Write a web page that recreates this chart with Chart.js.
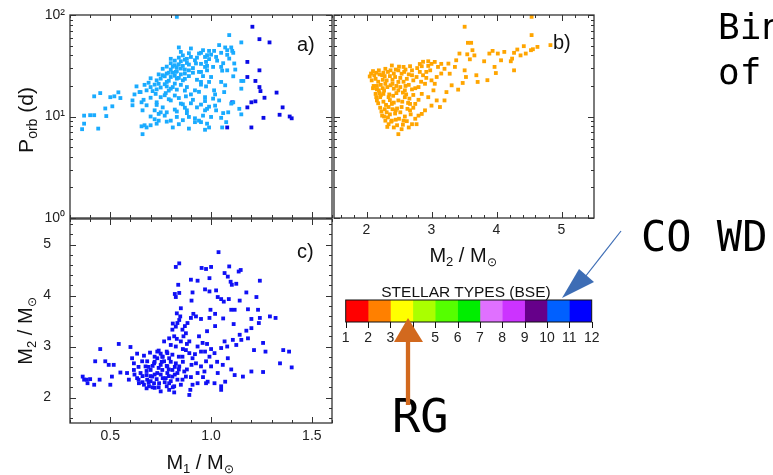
<!DOCTYPE html>
<html lang="en">
<head>
<meta charset="UTF-8">
<title>Binary stellar types</title>
<script src="https://cdn.jsdelivr.net/npm/chart.js"></script>
<style>
  body { margin: 0; background: #fff; }
  #page { position: relative; width: 773px; height: 475px; overflow: hidden; }
  canvas { position: absolute; }
  svg { position: absolute; left: 0; top: 0; }
</style>
</head>
<body>
<div id="page">
  <canvas id="panelA" width="340" height="225" style="left:0;top:0"></canvas>
  <canvas id="panelB" width="270" height="246" style="left:330px;top:0"></canvas>
  <canvas id="panelC" width="340" height="250" style="left:0;top:210px"></canvas>
  <canvas id="typeBar" width="280" height="60" style="left:330px;top:290px"></canvas>
  <svg width="773" height="475">
    <g font-family="Liberation Sans, Arial, sans-serif" fill="#111">
      <text x="297" y="51" font-size="20">a)</text>
      <text x="553" y="49" font-size="20">b)</text>
      <text x="297" y="258" font-size="20">c)</text>
      <text transform="translate(33,120) rotate(-90)" text-anchor="middle" font-size="21">P<tspan font-size="14" dy="4">orb</tspan><tspan dy="-4"> (d)</tspan></text>
      <text transform="translate(32,331) rotate(-90)" text-anchor="middle" font-size="20">M<tspan font-size="13" dy="4">2</tspan><tspan dy="-4"> / M</tspan><tspan font-size="12" dy="4">⊙</tspan></text>
      <text x="200" y="469" text-anchor="middle" font-size="20">M<tspan font-size="13" dy="4">1</tspan><tspan dy="-4"> / M</tspan><tspan font-size="12" dy="4">⊙</tspan></text>
      <text x="463" y="262" text-anchor="middle" font-size="20">M<tspan font-size="13" dy="4">2</tspan><tspan dy="-4"> / M</tspan><tspan font-size="12" dy="4">⊙</tspan></text>
      <text x="466" y="297" text-anchor="middle" font-size="15.5">STELLAR TYPES (BSE)</text>
    </g>
    <g font-family="DejaVu Sans Mono, monospace" fill="#000">
      <text x="718" y="39" font-size="36">Bin</text>
      <text x="718" y="84" font-size="36">of</text>
      <text x="641" y="251" font-size="42">CO WD</text>
      <text x="392" y="432" font-size="47">RG</text>
    </g>
    <line x1="408" y1="405" x2="408" y2="340" stroke="#d2691e" stroke-width="4.3"/>
    <polygon points="408,318 394,342 423,342" fill="#d2691e"/>
    <line x1="621" y1="231" x2="585" y2="277" stroke="#3d6db5" stroke-width="1.2"/>
    <polygon points="562,298 579,269 594,282" fill="#3d6db5"/>
  </svg>
</div>

<script>
// panel a: M1 vs orbital period (light = type 10, dark = type 11)
const aLight = [
  [0.36,7.5],[0.37,8.5],[0.37,10.2],[0.40,10.3],[0.42,10.3],[0.44,7.6],[0.42,15.8],[0.45,17.0],[0.475,12.0],[0.48,10.1],
  [0.50,15.5],[0.51,12.6],[0.52,15.8],[0.54,17.3],[0.55,15.2],[0.61,14.4],[0.61,12.9],[0.63,19.8],[0.645,17.4],[0.655,13.8],
  [0.66,11.5],[0.655,8.0],[0.67,8.2],[0.68,7.8],[0.66,6.7],[0.83,96],
  [0.84,47.9],[0.85,43.3],[0.90,46.8],[0.94,41.7],[0.96,45.0],[0.98,40.2],[0.90,38.6],[0.87,36.3],[0.92,35.8],[0.88,33.7],
  [0.925,33.3],[0.82,32.0],[0.84,32.7],[0.85,29.7],[0.80,29.0],[0.825,27.5],[0.87,26.5],[0.89,28.5],[0.94,27.5],[0.97,30.8],
  [0.78,26.5],[0.77,24.9],[0.80,24.5],[0.83,23.6],[0.86,22.7],[0.75,23.6],[0.73,22.7],[0.78,21.9],[0.82,21.1],[0.72,20.6],
  [0.70,19.5],[0.75,19.3],[0.80,18.8],[0.83,18.4],[0.88,19.5],[0.92,18.1],[0.95,21.9],[0.68,18.1],[0.65,17.4],[0.725,16.7],
  [0.775,17.0],[0.82,16.1],[0.875,15.8],[0.91,14.6],[0.70,15.3],[0.665,14.6],[0.73,13.8],[0.80,14.4],[0.85,13.4],[0.68,12.9],
  [0.76,12.3],[0.72,11.5],[0.82,11.7],[0.88,11.5],[0.93,12.3],[0.97,11.5],[0.70,10.0],[0.77,10.2],[0.83,9.9],[0.74,9.1],
  [0.80,9.1],[0.89,9.9],[0.92,8.8],[0.94,9.1],[0.70,8.2],[0.73,8.5],[0.81,7.8],[0.89,7.6],[0.98,8.5],
  [0.76,25.5],[0.79,27.0],[0.81,31.0],[0.83,28.0],[0.85,35.0],[0.86,31.5],[0.88,37.0],[0.79,22.5],[0.74,21.0],[0.78,19.8],
  [0.82,25.2],[0.84,24.0],[0.87,29.0],[0.89,32.5],[0.91,30.0],[0.93,38.0],[0.95,33.0],[0.77,16.2],[0.71,17.8],[0.69,21.5],
  [0.73,13.0],[0.75,11.0],[0.86,13.2],[0.90,16.5],[0.94,17.5],[0.96,25.0],[0.97,14.2],[0.99,12.5],[0.92,9.6],[0.84,8.4],
  [0.78,8.9],[0.72,9.4],[0.83,11.2],[0.88,10.8],[1.02,16.5],[1.00,24.5],[0.98,31.5],
  [0.74,26.0],[0.76,29.5],[0.78,31.0],[0.80,33.5],[0.82,35.5],[0.84,38.0],[0.86,40.0],[0.81,27.0],[0.83,30.5],[0.85,26.0],
  [0.87,23.5],[0.89,25.0],[0.91,27.0],[0.93,23.0],[0.77,20.8],[0.79,18.0],[0.81,19.5],[0.85,20.5],[0.87,18.0],[0.73,18.5],
  [0.75,15.5],[0.79,14.8],[0.84,15.2],[0.87,12.2],[0.90,13.5],[0.78,11.0],[0.74,10.6],[0.86,9.2],[0.96,10.2],[1.02,12.8],
  [1.03,35.5],[1.06,33.5],[1.08,40.5],[0.99,36.8],[0.89,42.0],[0.80,37.0],[0.70,23.8],[0.67,20.5],[0.62,16.5],
  [1.09,63.4],[1.15,53.7],[1.04,50.5],[1.07,47.9],[1.10,47.9],[1.08,45.0],[1.105,44.3],[1.11,42.4],[1.05,42.4],[1.015,44.3],
  [0.99,44.3],[1.00,40.7],[1.025,38.6],[0.97,38.6],[0.95,42.4],[0.975,34.5],[1.09,37.2],[1.115,33.3],[1.05,30.8],[1.08,28.5],
  [1.12,29.0],[0.98,28.5],[1.01,30.8],[0.95,27.5],[1.055,28.3],[1.11,24.9],[0.99,21.9],[1.15,22.4],[1.16,22.4],[1.05,21.9],
  [1.07,20.3],[1.15,18.8],[0.975,19.8],[0.95,20.6],[1.015,18.1],[1.065,17.4],[0.97,15.5],[1.01,15.0],[1.04,14.4],[1.11,13.8],
  [1.10,13.4],[0.95,13.1],[0.98,11.9],[1.025,11.5],[1.06,10.8],[1.085,11.0],[1.15,10.5],[1.14,11.9],[1.00,9.9],[0.95,8.8],
  [1.05,9.7],[1.075,8.8],[0.99,7.8],[1.055,7.8],[0.97,7.4]
];
const aDark = [
  [1.205,76.6],[1.24,57.8],[1.29,53.7],[1.18,34.5],[1.24,28.5],[1.18,24.5],[1.22,22.4],[1.24,19.5],[1.245,17.8],[1.265,15.3],
  [1.325,17.2],[1.22,14.1],[1.20,13.8],[1.18,12.3],[1.105,13.8],[1.355,12.3],[1.34,10.4],[1.26,9.7],[1.39,10.0],[1.40,9.6],
  [1.20,7.8],[1.08,7.8]
];

// panel b: M2 vs orbital period
const bPoints = [
  [4.54,96],[3.51,76.6],[4.54,63.4],[3.61,53.2],[3.56,53.2],[4.83,50.5],[4.63,48.5],[4.53,45],[4.56,46],[4.42,49.3],
  [4.32,45.7],[4.27,42.4],[4.24,37.2],[4.37,40],[4.45,41.7],[4.22,35],[4.27,28.5],[4.12,43.3],[4.07,35.8],[4.02,41.7],
  [3.94,44.3],[3.89,41.7],[3.81,35],[3.97,30.8],[3.99,26.8],[3.86,22.8],[3.69,25.5],[3.71,21.9],[3.66,40],[3.63,45],
  [3.55,41],[3.59,36.6],[3.51,28.5],[3.53,24.5],[3.48,21.4],[3.43,41.7],[3.38,35.8],[3.36,30.8],[3.41,18.4],[3.26,33.2],
  [3.28,26.4],[3.31,20.3],[3.23,17.4],[3.2,14.4],[3.13,12.4],[3.15,33],[3.1,30.8],[3.05,34.5],[3.0,33],[2.95,35],
  [2.87,34.6],[2.85,31.3],[2.82,32.9],[3.08,24.5],[3.0,22.7],[2.9,21],[3.03,18.1],[2.95,15.5],[3.08,14.4],[3.0,12.8],
  [2.9,11.5],[2.85,10.6],[2.8,10.2],[2.75,9.5],[2.77,8.4],[2.7,8.4],[2.65,7.8],[2.54,7.5],[2.49,6.7],[2.42,7.8],
  [2.34,8.4],[2.39,9.1],[2.29,9.1],[2.24,10.2],[2.31,11],[2.21,12.2],[2.16,14.4],[2.14,16.7],[2.19,18.1],[2.11,20],
  [2.08,22.7],[2.05,24.8],[2.19,28.5],[2.29,29.5],[2.39,31.8],[2.37,28.5],[2.24,25.5],[2.31,22.7],[2.44,24.5],[2.49,21.9],
  [2.54,26.4],[2.67,31.3],[2.7,28.5],[2.65,20.5],[2.77,24.5],[2.8,19.5],[2.72,16.3],[2.59,15.5],[2.49,14.4],[2.39,13.3],
  [2.54,12.4],[2.67,11.5],[2.75,13.3],[2.44,10.7],[2.59,10],[2.34,15.5],[2.26,16.7],[2.42,18.8],[2.49,18.1],[2.59,18.1],
  [2.85,16.7],[2.8,14.6],[2.67,13.3],[2.47,12],[2.34,12.4],[2.26,14],[2.21,15.5],[2.29,21],[2.37,20.3],[2.14,23.5],
  [2.16,20],[2.49,28.5],[2.57,30.8],[2.42,26.5],[2.62,23.5],[2.72,22.7],[2.87,25.5],[2.92,27.5],[2.82,27.5],
  [2.2,17],[2.25,19],[2.3,13],[2.35,16.5],[2.4,21],[2.45,11.5],[2.5,9.5],[2.55,14],[2.6,20],[2.33,9.8],
  [2.38,8.9],[2.47,8.2],[2.62,9.0],[2.68,10.5],[2.18,22],[2.26,27],[2.36,25],[2.52,24],[2.58,27.5],[2.75,19],
  [2.78,30],[2.92,24],[2.98,28.5],[3.05,21],[3.15,26.5],[3.2,29.5],[2.12,25.5],[2.1,19],[2.15,15.5],[2.28,11.8],
  [2.42,13.7],[2.56,17.2],[2.64,13.6],[2.72,12.2],
  [2.07,26.5],[2.1,28],[2.15,27],[2.2,26],[2.25,23],[2.28,25],[2.33,27.5],[2.45,29],[2.5,31],[2.6,29],
  [2.65,26],[2.7,25.5],[2.16,18.5],[2.22,20.5],[2.27,18],[2.32,19.5],[2.36,14.5],[2.41,16],[2.46,17],[2.52,19.5],
  [2.57,22],[2.61,16.5],[2.66,15],[2.7,18.5],[2.18,13.5],[2.23,11.2],[2.27,10],[2.36,10.5],[2.4,11.8],[2.52,11],
  [2.57,9.1],[2.45,9.3],[2.32,7.9],[2.56,8.3],[2.63,11.9],[2.22,16.2],[2.4,23],[2.46,20],[2.84,22],[2.95,31.5]
];

// panel c: M1 vs M2
const cPoints = [
  [0.363,2.41],[0.37,2.35],[0.383,2.35],[0.40,2.36],[0.387,2.28],[0.42,2.25],[0.447,2.35],[0.45,2.95],[0.425,2.71],[0.475,2.71],
  [0.492,2.64],[0.517,2.64],[0.50,2.25],[0.508,2.41],[0.542,3.05],[0.55,2.49],[0.583,2.48],[0.60,2.99],[0.617,2.67],
  [1.037,4.85],[0.842,4.63],[0.825,4.56],[0.953,4.54],[0.975,4.52],[1.0,4.56],[1.09,4.57],[1.147,4.5],[1.137,4.47],[1.067,4.44],
  [1.083,4.37],[1.097,4.27],[1.103,4.21],[1.125,4.23],[0.90,4.31],[0.933,4.29],[0.992,4.34],[0.837,4.21],[0.842,4.05],[0.82,4.03],
  [0.825,3.97],[0.908,4.06],[0.903,3.9],[0.97,4.12],[0.992,4.08],[1.025,4.1],[1.033,3.97],[1.05,3.93],[1.063,3.88],[1.088,3.93],
  [1.142,3.9],[1.225,3.97],[1.242,4.29],[1.175,4.06],[1.183,3.73],[1.233,3.72],[1.10,3.72],[1.117,3.72],[1.112,3.44],[1.20,3.54],
  [1.242,3.56],[1.237,3.46],[1.292,3.59],[1.32,3.56],[0.997,3.72],[1.02,3.64],[0.992,3.56],[0.95,3.54],[0.912,3.64],[0.90,3.56],
  [0.925,3.59],[0.883,3.46],[0.847,3.59],[0.842,3.52],[0.833,3.46],[0.825,3.39],[0.808,3.33],[0.817,3.2],[0.792,3.16],[0.767,3.1],
  [0.80,3.03],[0.825,3.0],[0.858,3.33],[0.863,3.2],[0.875,3.26],[0.892,3.1],[0.875,2.93],[0.892,2.87],[0.858,2.8],[0.908,2.77],
  [0.933,3.0],[0.958,3.07],[0.97,2.9],[0.992,2.8],[1.017,2.87],[1.05,2.97],[1.067,3.1],[1.108,3.13],[1.125,3.03],[1.142,3.23],
  [1.15,3.13],[1.183,3.16],[1.20,3.36],[1.175,3.31],[1.213,2.93],[1.258,3.07],[1.27,2.9],[1.358,2.93],[1.387,2.9],[1.342,2.67],
  [1.40,2.59],[1.258,2.5],[1.20,2.51],[1.158,2.41],[1.117,2.44],[1.083,2.77],[1.058,2.64],[1.033,2.48],[1.0,2.61],[0.975,2.71],
  [0.95,2.61],[0.925,2.67],[0.903,2.64],[0.933,2.48],[0.967,2.51],[0.983,2.31],[1.017,2.28],[1.05,2.22],[1.07,2.31],[1.05,2.15],
  [0.975,2.28],[0.933,2.28],[0.892,2.05],[0.897,2.15],[0.908,2.25],[0.875,2.41],[0.867,2.51],[0.842,2.61],[0.833,2.35],[0.817,2.22],
  [0.817,2.1],[0.792,2.28],[0.775,2.38],[0.783,2.48],[0.758,2.54],[0.75,2.64],[0.767,2.71],[0.792,2.77],[0.808,2.84],[0.783,2.87],
  [0.758,2.8],[0.733,2.77],[0.717,2.67],[0.70,2.54],[0.733,2.48],[0.708,2.41],[0.683,2.35],[0.667,2.25],[0.692,2.22],[0.717,2.28],
  [0.742,2.28],[0.75,2.12],[0.72,2.19],[0.792,2.15],[0.65,2.48],[0.675,2.61],[0.658,2.71],[0.642,2.28],[0.633,2.38],[0.617,2.54],
  [0.608,2.77],[0.592,2.35],[0.633,2.86],[0.667,2.82],[0.697,2.88],[0.72,2.8],[0.733,2.9],[0.75,2.86],[0.683,2.71],[0.783,2.61],
  [0.808,2.54],[0.825,2.67],[0.833,2.48],[0.808,2.41],[0.858,2.35],[0.85,2.25],
  [0.70,2.32],[0.72,2.45],[0.74,2.58],[0.76,2.38],[0.68,2.52],[0.66,2.42],[0.78,2.22],[0.80,2.32],[0.71,2.62],[0.69,2.29],
  [0.755,2.70],[0.79,2.55],[0.82,2.6],[0.84,2.8],[0.86,2.95],[0.88,3.05],[0.85,3.1],[0.83,3.15],[0.87,3.4],[0.81,3.45],
  [0.95,2.9],[1.0,2.95],[1.03,2.7],[0.94,3.2],[0.98,3.3],[1.08,3.0],[1.1,2.55],[0.64,2.6],[0.62,2.45],[0.78,2.9],
  [0.66,2.3],[0.68,2.18],[0.70,2.42],[0.71,2.2],[0.73,2.36],[0.74,2.2],[0.75,2.45],[0.77,2.3],[0.78,2.62],[0.79,2.42],
  [0.80,2.7],[0.81,2.2],[0.82,2.45],[0.84,2.55],[0.69,2.6],[0.72,2.7],[0.76,2.8],[0.74,2.92],[0.68,2.44],[0.64,2.35],
  [0.86,2.7],[0.88,2.55],[0.90,2.4],[0.92,2.85],[0.96,2.4],[0.98,3.05],[1.02,3.4],[1.06,3.55],[0.85,3.75],[0.83,3.65]
];

// colour bar: BSE stellar types
const stellarTypes = [1, 2, 3, 4, 5, 6, 7, 8, 9, 10, 11];
const typeColors = ['#ff0000', '#ff8000', '#ffff00', '#aaff00', '#55ff00', '#00ee00',
                    '#e070ff', '#cc33ff', '#66008a', '#0060ff', '#0000ff'];
const typeTicks = [1, 2, 3, 4, 5, 6, 7, 8, 9, 10, 11, 12];

// axis ticks
const decadeLabels = { 1: '10⁰', 10: '10¹', 100: '10²' };
const periodMajor = [1, 10, 100];
const periodMinor = [2, 3, 4, 5, 6, 7, 8, 9, 20, 30, 40, 50, 60, 70, 80, 90];
const m1Major = [0.5, 1.0, 1.5];
const m1Minor = [0.3, 0.4, 0.6, 0.7, 0.8, 0.9, 1.1, 1.2, 1.3, 1.4, 1.6];
const m2Major = [2, 3, 4, 5];
const m2Minor = [1.6, 1.8, 2.2, 2.4, 2.6, 2.8, 3.2, 3.4, 3.6, 3.8, 4.2, 4.4, 4.6, 4.8, 5.2, 5.4];

Chart.defaults.font.family = '"Liberation Sans", Arial, sans-serif';
Chart.defaults.color = '#222';

// box + inward tick marks on every side
const frameBox = {
  id: 'frameBox',
  afterDatasetsDraw(chart, args, o) {
    const { ctx, chartArea: a, scales } = chart;
    const sx = scales.x, sy = scales.y;
    ctx.save();
    ctx.strokeStyle = o.color || '#333';
    ctx.lineWidth = 1;
    ctx.beginPath();
    const xt = (vals, len) => (vals || []).forEach(v => {
      const p = Math.round(sx.getPixelForValue(v)) + 0.5;
      if (o.outside) { ctx.moveTo(p, a.bottom); ctx.lineTo(p, a.bottom + len); return; }
      ctx.moveTo(p, a.bottom); ctx.lineTo(p, a.bottom - len);
      ctx.moveTo(p, a.top); ctx.lineTo(p, a.top + len);
    });
    const yt = (vals, len) => (vals || []).forEach(v => {
      const p = Math.round(sy.getPixelForValue(v)) + 0.5;
      ctx.moveTo(a.left, p); ctx.lineTo(a.left + len, p);
      ctx.moveTo(a.right, p); ctx.lineTo(a.right - len, p);
    });
    xt(o.xMajor, 6); xt(o.xMinor, 3); yt(o.yMajor, 6); yt(o.yMinor, 3);
    ctx.stroke();
    ctx.lineWidth = o.width || 1.3;
    ctx.strokeRect(a.left, a.top, a.right - a.left, a.bottom - a.top);
    ctx.restore();
  }
};

function pts(list) { return list.map(([x, y]) => ({ x, y })); }
function dots(list, color) {
  return { data: pts(list), backgroundColor: color, pointStyle: 'rect', pointRadius: 2.7, pointBorderWidth: 0 };
}
const fixed = vals => s => { s.ticks = vals.map(v => ({ value: v })); };
// fixed axis width, and no extra room asked for the end labels
const yWidth = w => s => { s.width = w; s.paddingTop = 0; s.paddingBottom = 0; };
const noGrid = { display: false, drawTicks: false };

function panel(id, datasets, scales, padding, frame) {
  return new Chart(document.getElementById(id), {
    type: 'scatter',
    data: { datasets },
    options: {
      responsive: false, animation: false, events: [],
      layout: { padding },
      plugins: { legend: { display: false }, tooltip: { enabled: false }, frameBox: frame },
      scales
    },
    plugins: [frameBox]
  });
}

panel('panelA', [dots(aLight, '#1aabff'), dots(aDark, '#0a0ae6')], {
  x: { type: 'linear', min: 0.3, max: 1.6, display: false },
  y: {
    type: 'logarithmic', min: 1, max: 100,
    afterBuildTicks: fixed(periodMajor),
    afterFit: yWidth(70),
    grid: noGrid, border: { display: false },
    ticks: { callback: v => decadeLabels[v], padding: 5, font: { size: 14 } }
  }
}, { left: 0, right: 8, top: 15, bottom: 7 },
{ xMajor: m1Major, xMinor: m1Minor, yMajor: periodMajor, yMinor: periodMinor });

panel('panelB', [dots(bPoints, '#ffa500')], {
  x: {
    type: 'linear', min: 1.5, max: 5.5,
    afterBuildTicks: fixed(m2Major),
    afterFit: s => { s.height = 28; },
    grid: noGrid, border: { display: false },
    ticks: { padding: 4, font: { size: 14 } }
  },
  y: { type: 'logarithmic', min: 1, max: 100, display: false }
}, { left: 2, right: 6, top: 15, bottom: 0 },
{ xMajor: m2Major, xMinor: m2Minor, yMajor: periodMajor, yMinor: periodMinor });

panel('panelC', [dots(cPoints, '#1010f5')], {
  x: {
    type: 'linear', min: 0.3, max: 1.6,
    afterBuildTicks: fixed(m1Major),
    afterFit: s => { s.height = 37; },
    grid: noGrid, border: { display: false },
    ticks: { padding: 5, font: { size: 14 }, callback: v => v.toFixed(1) }
  },
  y: {
    type: 'linear', min: 1.5, max: 5.5,
    afterBuildTicks: fixed(m2Major),
    afterFit: yWidth(70),
    grid: noGrid, border: { display: false },
    ticks: { padding: 19, font: { size: 14 } }
  }
}, { left: 0, right: 8, top: 9, bottom: 0 },
{ xMajor: m1Major, xMinor: m1Minor, yMajor: m2Major, yMinor: m2Minor });

new Chart(document.getElementById('typeBar'), {
  type: 'bar',
  data: {
    labels: ['BSE'],
    datasets: stellarTypes.map((t, i) => ({
      data: [[t, t + 1]], backgroundColor: typeColors[i], borderWidth: 0,
      grouped: false, barPercentage: 1, categoryPercentage: 1
    }))
  },
  options: {
    indexAxis: 'y', responsive: false, animation: false, events: [],
    layout: { padding: { left: 15.7, right: 18.3, top: 10, bottom: 0 } },
    plugins: { legend: { display: false }, tooltip: { enabled: false },
      frameBox: { xMajor: typeTicks, outside: true, width: 1, color: '#111' } },
    scales: {
      x: {
        type: 'linear', min: 1, max: 12,
        afterBuildTicks: fixed(typeTicks),
        afterFit: s => { s.height = 28; },
        grid: noGrid, border: { display: false },
        ticks: { padding: 8, font: { size: 14 } }
      },
      y: { display: false }
    }
  },
  plugins: [frameBox]
});
</script>
</body>
</html>
